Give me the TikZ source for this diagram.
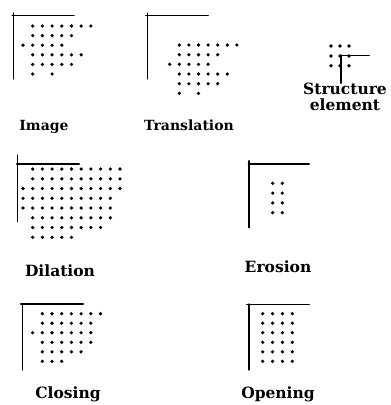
\documentclass[tikz,border=0pt]{standalone}
\usepackage{fontspec}
\setmainfont{DejaVu Serif}
% one row of pixel dots: x of column 0, column pitch, y, list of columns
\newcommand\dotrow[4]{\foreach \cc in {#4}{\fill ({#1+\cc*#2},#3) circle (1.8pt);}}
\begin{document}
\begin{tikzpicture}[x=1pt,y=-1pt,
  axis/.style={line width=1.2pt, line cap=round},
  lbl/.style={font=\bfseries\fontsize{14}{16}\selectfont, inner sep=0pt, anchor=base},
  biglbl/.style={lbl, font=\bfseries\fontsize{15.5}{16}\selectfont}]
\useasboundingbox (0,0) rectangle (391,405);

% ---- Image
\draw[axis] (12,15.7) -- (74,15.7);
\draw[axis] (13.3,13) -- (13.3,79);
\dotrow{32.7}{9.7}{26}{0,...,6}
\dotrow{32.7}{9.7}{35.6}{0,...,4}
\dotrow{32.7}{9.7}{45.2}{-1,...,3}
\dotrow{32.7}{9.7}{54.8}{0,...,5}
\dotrow{32.7}{9.7}{64.4}{0,...,4}
\dotrow{32.7}{9.7}{74}{0,2}
\node[lbl] (image) at (44,130) {Image};

% ---- Translation
\draw[axis] (145.7,15.7) -- (208.3,15.7);
\draw[axis] (147.3,13) -- (147.3,79);
\dotrow{179.3}{9.6}{45}{0,...,6}
\dotrow{179.3}{9.6}{54.7}{0,...,4}
\dotrow{179.3}{9.6}{64.3}{-1,...,3}
\dotrow{179.3}{9.6}{74}{0,...,5}
\dotrow{179.3}{9.6}{83.7}{0,...,4}
\dotrow{179.3}{9.6}{93.3}{0,2}
\node[lbl] (translation) at (189,130) {Translation};

% ---- Structure element
\dotrow{331}{9}{46}{0,1,2}
\dotrow{331}{9}{56}{0,1,2}
\dotrow{331}{9}{65.7}{0,1,2}
\draw[axis] (340,55.3) -- (369.3,55.3);
\draw[axis] (341,55) -- (341,83.3);
\node[biglbl,align=center] (structure) at (345,110) {Structure\\element};

% ---- Dilation
\draw[axis] (16.7,164) -- (79.3,164);
\draw[axis] (17.3,155) -- (17.3,221.7);
\dotrow{32.7}{9.7}{169}{0,...,9}
\dotrow{32.7}{9.7}{178.8}{0,...,9}
\dotrow{32.7}{9.7}{188.5}{-1,...,9}
\dotrow{32.7}{9.7}{198.3}{-1,...,8}
\dotrow{32.7}{9.7}{208}{-1,...,8}
\dotrow{32.7}{9.7}{217.8}{0,...,8}
\dotrow{32.7}{9.7}{227.5}{0,...,7}
\dotrow{32.7}{9.7}{237.3}{0,...,4}
\node[biglbl] (dilation) at (60,276) {Dilation};

% ---- Erosion
\draw[axis] (248.3,164) -- (309.3,164);
\draw[axis] (249,160.7) -- (249,227.7);
\dotrow{272.7}{9.6}{183.3}{0,1}
\dotrow{272.7}{9.6}{193.1}{0,1}
\dotrow{272.7}{9.6}{202.9}{0,1}
\dotrow{272.7}{9.6}{212.7}{0,1}
\node[biglbl] (erosion) at (278,272.7) {Erosion};

% ---- Closing
\draw[axis] (20.7,304) -- (83.3,304);
\draw[axis] (22.7,304) -- (22.7,370);
\dotrow{42.3}{9.7}{313.7}{0,...,6}
\dotrow{42.3}{9.7}{323.2}{0,...,5}
\dotrow{42.3}{9.7}{332.7}{-1,...,5}
\dotrow{42.3}{9.7}{342.3}{0,...,5}
\dotrow{42.3}{9.7}{351.8}{0,...,4}
\dotrow{42.3}{9.7}{361.3}{0,1,2}
\node[biglbl] (closing) at (68,398) {Closing};

% ---- Opening
\draw[axis] (246.7,304.3) -- (309.3,304.3);
\draw[axis] (249,304) -- (249,370);
\foreach \yy in {313.7,323.2,332.7,342.3,351.8,361.3}{\dotrow{262.7}{9.87}{\yy}{0,...,3}}
\node[biglbl] (opening) at (278,398) {Opening};
\end{tikzpicture}
\end{document}
